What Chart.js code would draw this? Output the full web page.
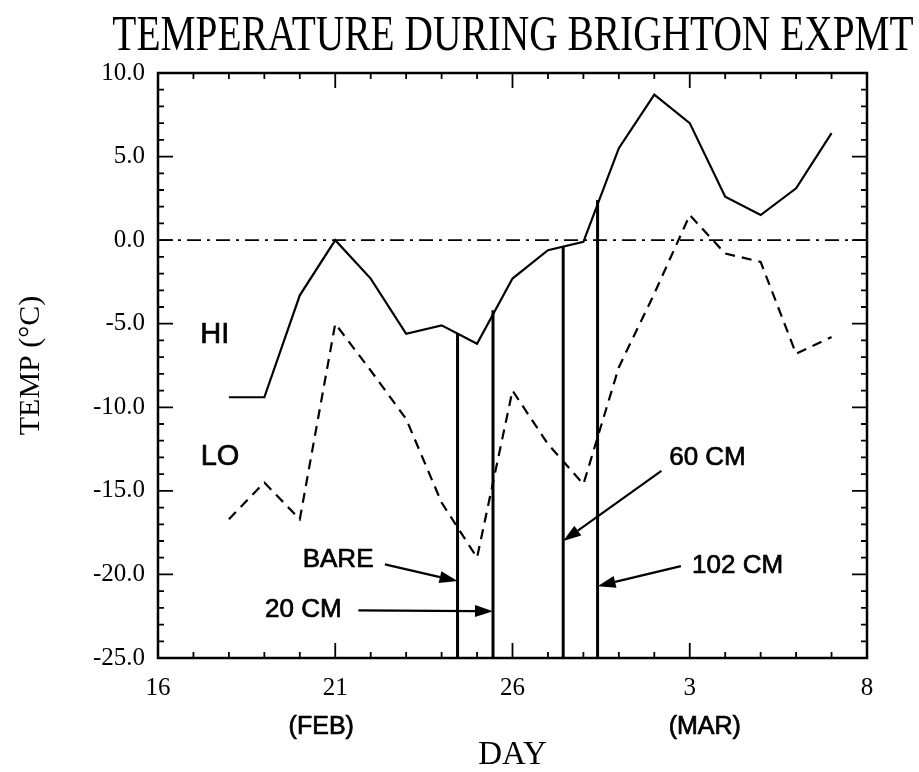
<!DOCTYPE html>
<html>
<head>
<meta charset="utf-8">
<title>Temperature during Brighton experiment</title>
<script src="https://cdn.jsdelivr.net/npm/chart.js@4.4.0/dist/chart.umd.min.js"></script>
<style>
  html, body { margin: 0; padding: 0; background: #fff; }
  #wrap { width: 919px; height: 772px; }
</style>
</head>
<body>
<div id="wrap"><canvas id="myChart" width="919" height="772"></canvas></div>
<script>
// day numbers run on past the end of Feb (29 = 1 Mar, 31 = 3 Mar, 36 = 8 Mar)
const days = [18, 19, 20, 21, 22, 23, 24, 25, 26, 27, 28, 29, 30, 31, 32, 33, 34, 35];
const hiTemps = [-9.4, -9.4, -3.3, 0.0, -2.3, -5.6, -5.1, -6.2, -2.3, -0.6, -0.1, 5.5, 8.7, 7.0, 2.6, 1.5, 3.1, 6.4];
const loTemps = [-16.7, -14.5, -16.7, -5.0, -7.8, -10.7, -15.7, -19.0, -9.0, -12.2, -14.6, -7.6, -3.2, 1.5, -0.8, -1.3, -6.8, -5.8];

const xTickValues = [16, 21, 26, 31, 36];
const xTickLabels = ["16", "21", "26", "3", "8"];
const monthNames = ["(FEB)", "(MAR)"];
const yTickValues = [-25, -20, -15, -10, -5, 0, 5, 10];

// probe depths: day the probe was read and the HI temp it reached
const depthNames = ["BARE", "20 CM", "60 CM", "102 CM"];
const depthDays = [24.45, 25.45, 27.43, 28.4];
const depthTops = [-5.6, -4.2, -0.4, 2.4];

const BLACK = "#000";
const SANS = '"Liberation Sans", Arial, sans-serif';
const SERIF = '"Liberation Serif", "Times New Roman", serif';

// where the labels and arrows go (in day / temp units)
const notes = [
  { text: "BARE",   tx: 21.08, ty: -19.1, from: [22.4, -19.4],  to: [depthDays[0], -20.4] },
  { text: "20 CM",  tx: 20.1,  ty: -22.1, from: [21.65, -22.15], to: [depthDays[1], -22.2] },
  { text: "60 CM",  tx: 31.5,  ty: -13.0, from: [30.2, -13.8],  to: [depthDays[2], -18.0] },
  { text: "102 CM", tx: 32.35, ty: -19.5, from: [30.75, -19.5], to: [depthDays[3], -20.7] },
];

function pts(xs, ys) {
  return xs.map((x, i) => ({ x: x, y: ys[i] }));
}

const datasets = [
  { label: "HI", data: pts(days, hiTemps), borderColor: BLACK, borderWidth: 2.2 },
  { label: "LO", data: pts(days, loTemps), borderColor: BLACK, borderWidth: 2.2, borderDash: [10, 7] },
  { label: "zero", data: [{ x: 16, y: 0 }, { x: 36, y: 0 }], borderColor: BLACK, borderWidth: 1.7, borderDash: [14, 6, 3, 6] },
];
depthNames.forEach((name, i) => {
  datasets.push({
    label: name,
    data: [{ x: depthDays[i], y: -25 }, { x: depthDays[i], y: depthTops[i] }],
    borderColor: BLACK,
    borderWidth: 3,
  });
});
datasets.forEach(ds => {
  ds.showLine = true;
  ds.pointRadius = 0;
  ds.tension = 0;
  ds.fill = false;
});

function drawArrow(ctx, x1, y1, x2, y2) {
  const ang = Math.atan2(y2 - y1, x2 - x1);
  const len = 18, half = 6;
  const bx = x2 - len * Math.cos(ang), by = y2 - len * Math.sin(ang);
  ctx.beginPath();
  ctx.moveTo(x1, y1);
  ctx.lineTo(bx, by);
  ctx.lineWidth = 2.2;
  ctx.stroke();
  ctx.beginPath();
  ctx.moveTo(x2, y2);
  ctx.lineTo(bx - half * Math.sin(ang), by + half * Math.cos(ang));
  ctx.lineTo(bx + half * Math.sin(ang), by - half * Math.cos(ang));
  ctx.closePath();
  ctx.fill();
}

// filled text with a thin outline so it reads a little heavier
function heavyText(ctx, text, x, y) {
  ctx.fillText(text, x, y);
  ctx.lineWidth = 0.7;
  ctx.strokeText(text, x, y);
}

// frame, inward tick marks, month names, HI/LO, probe labels, title
const decorations = {
  id: "decorations",
  afterDraw(chart) {
    const ctx = chart.ctx;
    const a = chart.chartArea;
    const xs = chart.scales.x, ys = chart.scales.y;
    ctx.save();
    ctx.strokeStyle = BLACK;
    ctx.fillStyle = BLACK;

    ctx.lineWidth = 2.5;
    ctx.strokeRect(a.left, a.top, a.right - a.left, a.bottom - a.top);

    ctx.lineWidth = 1.8;
    ctx.beginPath();
    for (let d = 16; d <= 36; d++) {
      const px = xs.getPixelForValue(d);
      const len = (d - 16) % 5 === 0 ? 15 : 6;
      ctx.moveTo(px, a.bottom); ctx.lineTo(px, a.bottom - len);
      ctx.moveTo(px, a.top); ctx.lineTo(px, a.top + len);
    }
    for (let v = -25; v <= 10; v++) {
      const py = ys.getPixelForValue(v);
      const len = v % 5 === 0 ? 15 : 6;
      ctx.moveTo(a.left, py); ctx.lineTo(a.left + len, py);
      ctx.moveTo(a.right, py); ctx.lineTo(a.right - len, py);
    }
    ctx.stroke();

    ctx.textAlign = "center";
    ctx.textBaseline = "middle";
    ctx.font = "25px " + SANS;
    heavyText(ctx, monthNames[0], xs.getPixelForValue(21) - 14, 727);
    heavyText(ctx, monthNames[1], xs.getPixelForValue(31) + 15, 727);

    ctx.font = "29px " + SANS;
    heavyText(ctx, "HI", xs.getPixelForValue(17.6), ys.getPixelForValue(-5.65));
    heavyText(ctx, "LO", xs.getPixelForValue(17.75), ys.getPixelForValue(-12.95));

    ctx.font = "26px " + SANS;
    notes.forEach(n => {
      heavyText(ctx, n.text, xs.getPixelForValue(n.tx), ys.getPixelForValue(n.ty));
      drawArrow(ctx,
        xs.getPixelForValue(n.from[0]), ys.getPixelForValue(n.from[1]),
        xs.getPixelForValue(n.to[0]), ys.getPixelForValue(n.to[1]));
    });

    // title, set in a tall narrow serif
    ctx.font = "39.4px " + SERIF;
    ctx.textBaseline = "alphabetic";
    ctx.translate(513, 50);
    ctx.scale(1, 1.27);
    ctx.fillText("TEMPERATURE DURING BRIGHTON EXPMT", 0, 0);
    ctx.restore();
  }
};

const ctx = document.getElementById("myChart").getContext("2d");
const myChart = new Chart(ctx, {
  type: "scatter",
  data: { datasets: datasets },
  options: {
    responsive: false,
    animation: false,
    devicePixelRatio: 1,
    layout: { padding: { top: 73, right: 52, left: 0, bottom: 0 } },
    plugins: {
      legend: { display: false },
      tooltip: { enabled: false },
    },
    scales: {
      x: {
        type: "linear",
        min: 16,
        max: 36,
        afterFit: s => { s.height = 114; },
        afterBuildTicks: s => { s.ticks = xTickValues.map(v => ({ value: v })); },
        grid: { display: false, drawTicks: false },
        border: { display: false },
        ticks: {
          color: BLACK,
          padding: 15,
          maxRotation: 0,
          autoSkip: false,
          font: { family: SERIF, size: 25 },
          callback: v => xTickLabels[xTickValues.indexOf(v)],
        },
        title: {
          display: true,
          text: "DAY",
          color: BLACK,
          font: { family: SERIF, size: 33, lineHeight: 1 },
          padding: { top: 0, bottom: 0 },
        },
      },
      y: {
        type: "linear",
        min: -25,
        max: 10,
        afterFit: s => { s.width = 158; },
        afterBuildTicks: s => { s.ticks = yTickValues.map(v => ({ value: v })); },
        grid: { display: false, drawTicks: false },
        border: { display: false },
        ticks: {
          color: BLACK,
          padding: 13,
          font: { family: SERIF, size: 25 },
          callback: v => v.toFixed(1),
        },
        title: {
          display: true,
          text: "TEMP (°C)",
          color: BLACK,
          font: { family: SERIF, size: 30 },
          padding: { top: 13, bottom: 0 },
        },
      },
    },
  },
  plugins: [decorations],
});
</script>
</body>
</html>
